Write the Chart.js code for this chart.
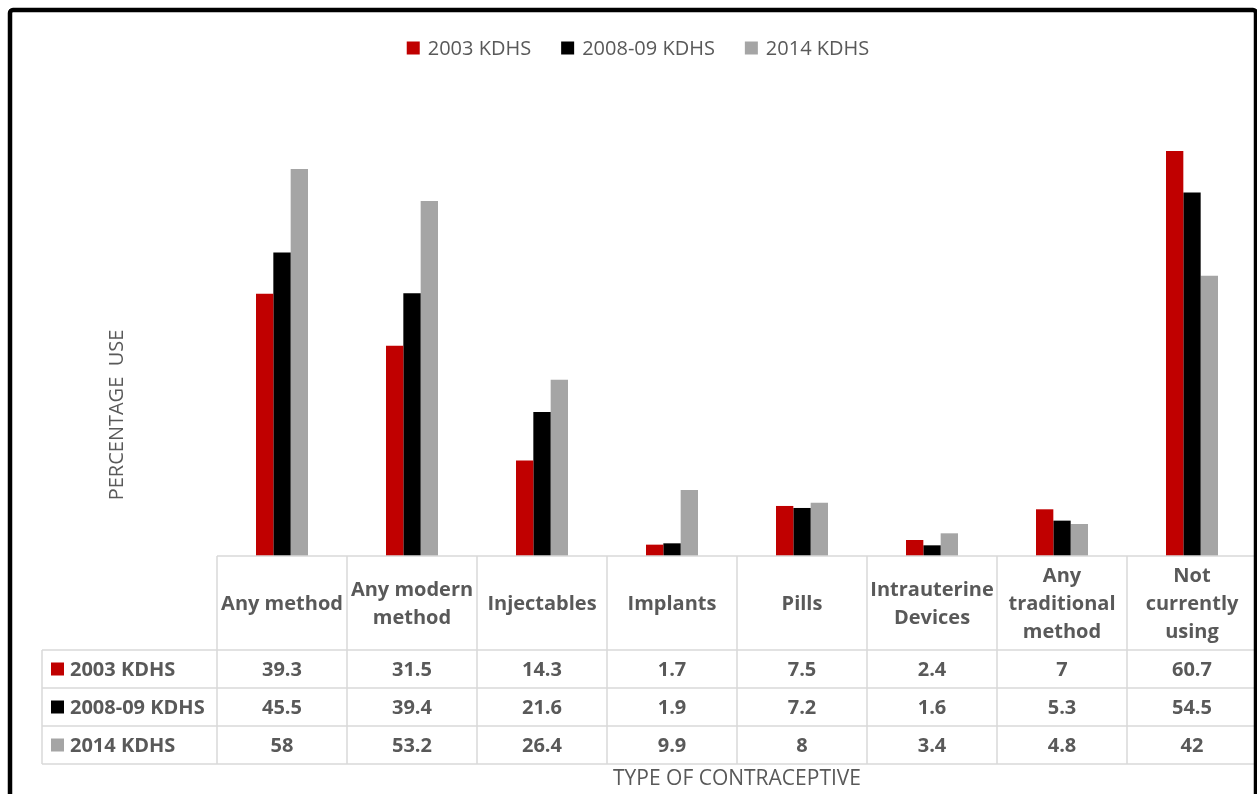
<!DOCTYPE html>
<html>
<head>
<meta charset="utf-8">
<title>Contraceptive use</title>
<script src="https://cdn.jsdelivr.net/npm/chart.js@4/dist/chart.umd.min.js"></script>
<style>
  html, body { margin: 0; padding: 0; background: #fff; }
  #wrap { width: 1257px; height: 794px; }
</style>
</head>
<body>
<div id="wrap"><canvas id="chart" width="1257" height="794"></canvas></div>
<script>
const categories = [
    ["Any method"],
    ["Any modern", "method"],
    ["Injectables"],
    ["Implants"],
    ["Pills"],
    ["Intrauterine", "Devices"],
    ["Any", "traditional", "method"],
    ["Not", "currently", "using"]
]
const seriesNames = ["2003 KDHS", "2008-09 KDHS", "2014 KDHS"]
const kdhs2003 = [39.3, 31.5, 14.3, 1.7, 7.5, 2.4, 7, 60.7]
const kdhs2008 = [45.5, 39.4, 21.6, 1.9, 7.2, 1.6, 5.3, 54.5]
const kdhs2014 = [58, 53.2, 26.4, 9.9, 8, 3.4, 4.8, 42]
const colores = ["#C00000", "#000000", "#A5A5A5"]

const textoGris = "#595959"
const lineaTabla = "#D9D9D9"
const fuente = '"Open Sans", sans-serif'

// table under the bars, the legend, axis titles and the outer frame
const tablaPlugin = {
    id: "tablaDatos",
    afterDraw(chart) {
        const ctx = chart.ctx
        const area = chart.chartArea
        const xScale = chart.scales.x
        const n = categories.length
        const ancho = area.width / n
        const top = area.bottom
        const headerBottom = top + 94
        const rowH = 38
        const filas = chart.data.datasets
        const tablaLeft = 42
        const bottom = headerBottom + rowH * filas.length

        ctx.save()

        // grid of the table
        ctx.strokeStyle = lineaTabla
        ctx.lineWidth = 1.5
        ctx.beginPath()
        ctx.moveTo(area.left, top)
        ctx.lineTo(area.right, top)
        for (let r = 0; r <= filas.length; r++) {
            let y = headerBottom + r * rowH
            ctx.moveTo(tablaLeft, y)
            ctx.lineTo(area.right, y)
        }
        ctx.moveTo(tablaLeft, headerBottom)
        ctx.lineTo(tablaLeft, bottom)
        for (let i = 0; i <= n; i++) {
            let x = area.left + i * ancho
            ctx.moveTo(x, top)
            ctx.lineTo(x, bottom)
        }
        ctx.stroke()

        // category headers
        ctx.fillStyle = textoGris
        ctx.textAlign = "center"
        ctx.textBaseline = "middle"
        ctx.font = "bold 20px " + fuente
        const lineH = 28
        categories.forEach((lineas, i) => {
            let cx = xScale.getPixelForValue(i)
            let cy = (top + headerBottom) / 2 + 1 - (lineas.length - 1) * lineH / 2
            lineas.forEach((t, k) => ctx.fillText(t, cx, cy + k * lineH))
        })

        // series rows
        filas.forEach((ds, r) => {
            let cy = headerBottom + r * rowH + rowH / 2
            ctx.fillStyle = ds.backgroundColor
            ctx.fillRect(51, cy - 6.5, 13, 13)
            ctx.fillStyle = textoGris
            ctx.textAlign = "left"
            ctx.fillText(ds.label, 70, cy + 1)
            ctx.textAlign = "center"
            ds.data.forEach((v, i) => {
                ctx.fillText(String(v), xScale.getPixelForValue(i), cy + 1)
            })
        })

        // legend on top
        ctx.font = "20px " + fuente
        ctx.textAlign = "left"
        const sq = 13
        const gap = 8
        const sep = 30
        let anchos = filas.map(ds => sq + gap + ctx.measureText(ds.label).width)
        let total = anchos.reduce((a, b) => a + b, 0) + sep * (filas.length - 1)
        let lx = 638 - total / 2
        const ly = 48
        filas.forEach((ds, r) => {
            ctx.fillStyle = ds.backgroundColor
            ctx.fillRect(lx, ly - sq / 2, sq, sq)
            ctx.fillStyle = textoGris
            ctx.fillText(ds.label, lx + sq + gap, ly + 1)
            lx += anchos[r] + sep
        })

        // axis titles
        ctx.font = "21px " + fuente
        ctx.textAlign = "center"
        ctx.fillText("TYPE OF CONTRACEPTIVE", (area.left + area.right) / 2, 779)
        ctx.font = "20px " + fuente
        ctx.save()
        ctx.translate(117, 415)
        ctx.rotate(-Math.PI / 2)
        ctx.fillText("PERCENTAGE  USE", 0, 0)
        ctx.restore()

        // outer frame
        ctx.strokeStyle = "#000"
        ctx.lineWidth = 4.5
        ctx.beginPath()
        ctx.roundRect(10, 10, 1246, 900, 3)
        ctx.stroke()

        ctx.restore()
    }
}

const chart = new Chart(document.getElementById("chart").getContext("2d"), {
    type: "bar",
    data: {
        labels: categories.map(c => c.join(" ")),
        datasets: [
            { label: seriesNames[0], data: kdhs2003, backgroundColor: colores[0] },
            { label: seriesNames[1], data: kdhs2008, backgroundColor: colores[1] },
            { label: seriesNames[2], data: kdhs2014, backgroundColor: colores[2] }
        ]
    },
    options: {
        responsive: false,
        animation: false,
        layout: { padding: { left: 217, right: 0, top: 89, bottom: 238 } },
        datasets: { bar: { categoryPercentage: 0.4, barPercentage: 1, borderWidth: 0 } },
        scales: {
            x: { display: false },
            y: { display: false, min: 0, max: 70 }
        },
        plugins: {
            legend: { display: false },
            tooltip: { enabled: false }
        }
    },
    plugins: [tablaPlugin]
})
</script>
</body>
</html>
